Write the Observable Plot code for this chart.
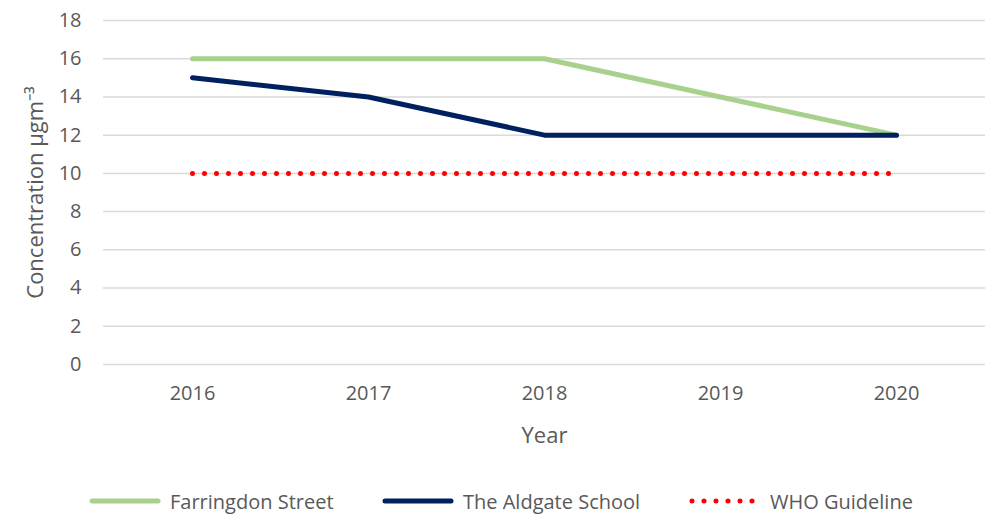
<!DOCTYPE html>
<html>
<head>
<meta charset="utf-8">
<script src="https://cdn.jsdelivr.net/npm/d3@7"></script>
<script src="https://cdn.jsdelivr.net/npm/@observablehq/plot@0.6"></script>
<style>
  html, body { margin: 0; padding: 0; background: #fff; }
  body { width: 993px; height: 522px; overflow: hidden; font-family: "Open Sans", sans-serif; }
  #legend { position: relative; height: 42px; font-size: 20px; color: #595959; }
  .item { position: absolute; top: 0; height: 42px; display: flex; align-items: center; }
  .item svg { margin-right: 6px; }
</style>
</head>
<body>
<div id="chart"></div>
<div id="legend"></div>
<script>
const years = ["2016", "2017", "2018", "2019", "2020"];
const farringdon = [16, 16, 16, 14, 12];
const aldgate = [15, 14, 12, 12, 12];
const who = [10, 10, 10, 10, 10];
const yTicks = [0, 2, 4, 6, 8, 10, 12, 14, 16, 18];
const seriesNames = ["Farringdon Street", "The Aldgate School", "WHO Guideline"];
const seriesColors = ["#A9D18E", "#002060", "#FF0000"];

const rows = (vals) => years.map((y, i) => ({year: y, value: vals[i]}));

const chart = Plot.plot({
  width: 993,
  height: 480,
  marginLeft: 103,
  marginRight: 8,
  marginTop: 20,
  marginBottom: 116,
  style: {fontFamily: "Open Sans, sans-serif", fontSize: "20px", color: "#595959", background: "white"},
  x: {type: "point", domain: years, padding: 0.5, align: 0.5},
  y: {domain: [0, 18]},
  marks: [
    Plot.gridY(yTicks, {stroke: "#d9d9d9", strokeOpacity: 1, strokeWidth: 1.5}),
    Plot.axisX({tickSize: 0, tickPadding: 21, label: "Year", labelAnchor: "center", labelOffset: 78, fill: "#595959", fontSize: 20}),
    Plot.axisY(yTicks, {tickSize: 0, tickPadding: 22, label: "Concentration µgm⁻³", labelAnchor: "center", labelOffset: 76, labelArrow: "none", fill: "#595959", fontSize: 20}),
    Plot.lineY(rows(who), {x: "year", y: "value", stroke: seriesColors[2], strokeWidth: 5, strokeDasharray: "0 12", strokeLinecap: "round"}),
    Plot.lineY(rows(farringdon), {x: "year", y: "value", stroke: seriesColors[0], strokeWidth: 5, strokeLinecap: "round", strokeLinejoin: "round"}),
    Plot.lineY(rows(aldgate), {x: "year", y: "value", stroke: seriesColors[1], strokeWidth: 5, strokeLinecap: "round", strokeLinejoin: "round"})
  ]
});
document.getElementById("chart").appendChild(chart);
chart.querySelectorAll("[aria-label='x-axis label'] text, [aria-label='y-axis label'] text").forEach(t => t.setAttribute("font-size", "22"));

const legend = document.getElementById("legend");
const lefts = [88, 381, 688];
seriesNames.forEach((name, i) => {
  const item = document.createElement("div");
  item.className = "item";
  item.style.left = lefts[i] + "px";
  const dashed = i === 2;
  item.innerHTML = `<svg width="76" height="10"><line x1="4" x2="70" y1="5" y2="5" stroke="${seriesColors[i]}" stroke-width="5" stroke-linecap="round" ${dashed ? 'stroke-dasharray="0 12"' : ''}/></svg><span>${name}</span>`;
  legend.appendChild(item);
});
</script>
</body>
</html>
